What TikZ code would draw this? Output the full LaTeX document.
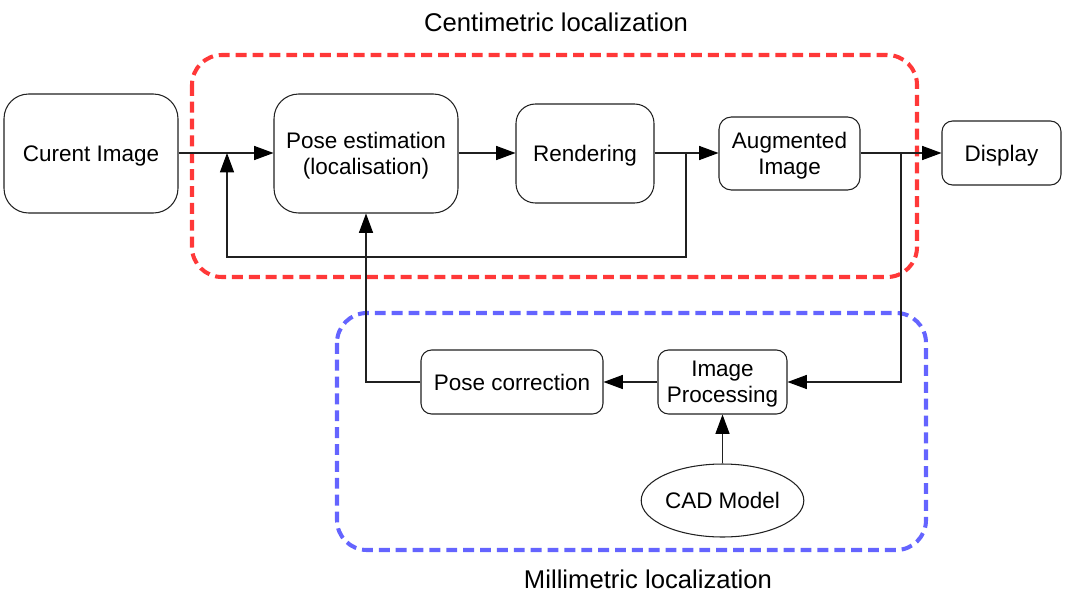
\documentclass[tikz,border=0pt]{standalone}
\usepackage{fontspec}
\setmainfont{Liberation Sans}
\usetikzlibrary{arrows.meta,shapes.geometric,positioning}
\definecolor{redbox}{HTML}{FF3838}
\definecolor{bluebox}{HTML}{6464FF}
\definecolor{linegray}{HTML}{202020}
\tikzset{
  blk/.style={draw=linegray,line width=0.6pt,align=center,inner sep=0pt,text depth=0pt,font=\fontsize{12.8}{15}\selectfont},
  conn/.style={draw=linegray,line width=0.6pt},
  arr/.style={conn,-{Triangle[length=11pt,width=8pt,color=black]}},
  zone/.style={line width=2.3pt,dash pattern=on 6.2pt off 3.4pt,rounded corners=17pt},
  ttl/.style={font=\fontsize{14.6}{17}\selectfont}
}
\begin{document}
\begin{tikzpicture}[x=0.02cm,y=-0.02cm]
\useasboundingbox (0,0) rectangle (1075,599);
% zones
\draw[zone,redbox] (192,55) rectangle (917,277);
\draw[zone,bluebox] (337,313) rectangle (926,550);
\node[ttl] (t1) at (556,22) {Centimetric localization};
\node[ttl] (t2) at (648,579) {Millimetric localization};
% nodes
\node[blk,rounded corners=14pt,minimum width=3.48cm,minimum height=2.38cm] (cur) at (91,153.5) {Curent Image};
\node[blk,rounded corners=14pt,minimum width=3.68cm,minimum height=2.38cm] (pose) at (366,153.5) {Pose estimation\\(localisation)};
\node[blk,rounded corners=11pt,minimum width=2.76cm,minimum height=1.98cm] (rend) at (585,153.5) {Rendering};
\node[blk,rounded corners=7pt,minimum width=2.82cm,minimum height=1.46cm] (aug) at (789.5,153.5) {Augmented\\Image};
\node[blk,rounded corners=6pt,minimum width=2.38cm,minimum height=1.28cm] (disp) at (1001.5,153) {Display};
\node[blk,rounded corners=6pt,minimum width=2.58cm,minimum height=1.28cm] (imp) at (722.5,382) {Image\\Processing};
\node[blk,rounded corners=6pt,minimum width=3.64cm,minimum height=1.28cm] (pc) at (512,382) {Pose correction};
\node[blk,ellipse,minimum width=3.1cm,minimum height=1.46cm] (cad) at (722.5,500.5) {CAD Model};
% junction coordinates
\coordinate (j1) at (227,153);
\coordinate (j2) at (686,153);
\coordinate (j3) at (901,153);
% connectors
\draw[arr] (cur.east |- j1) -- (pose.west |- j1);
\draw[arr] (pose.east |- j1) -- (rend.west |- j1);
\draw[arr] (rend.east |- j2) -- (aug.west |- j2);
\draw[arr] (aug.east |- j3) -- (disp.west |- j3);
\draw[arr] (j2) -- (686,257) -- (227,257) -- (j1);
\draw[arr] (j3) -- (901,382) -- (imp.east);
\draw[arr] (imp.west) -- (pc.east);
\draw[arr] (pc.west) -- (366,382) -- (pose.south);
\draw[arr] (cad.north) -- (imp.south);
\end{tikzpicture}
\end{document}
